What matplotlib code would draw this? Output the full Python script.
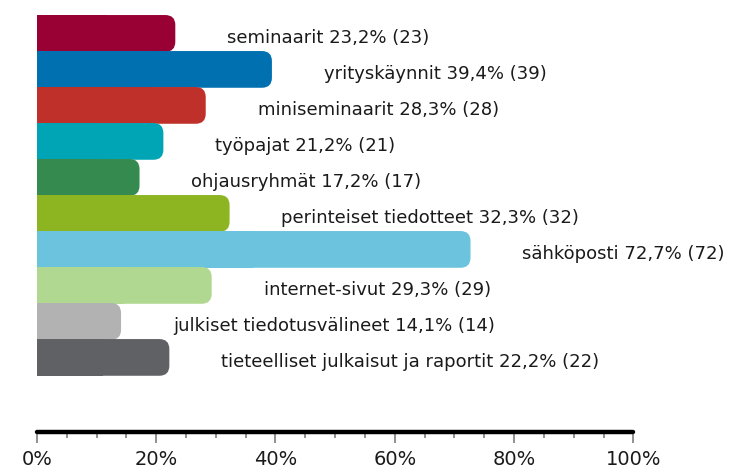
import matplotlib
matplotlib.use("Agg")
import matplotlib.pyplot as plt
from matplotlib.patches import FancyBboxPatch, Rectangle
from matplotlib.ticker import MultipleLocator, FuncFormatter

categories = ["seminaarit", "yrityskäynnit", "miniseminaarit", "työpajat", "ohjausryhmät",
              "perinteiset tiedotteet", "sähköposti", "internet-sivut",
              "julkiset tiedotusvälineet", "tieteelliset julkaisut ja raportit"]
percents = [23.2, 39.4, 28.3, 21.2, 17.2, 32.3, 72.7, 29.3, 14.1, 22.2]
counts = [23, 39, 28, 21, 17, 32, 72, 29, 14, 22]
colors = ["#990033", "#0070B0", "#C0302A", "#00A5B5", "#358A4F",
          "#8DB522", "#6CC3DE", "#B0D890", "#B2B2B2", "#606165"]

fig = plt.figure(figsize=(7.39, 4.70), dpi=100)
ax = fig.add_axes([0.050, 0.081, 0.807, 0.887])
ax.set_xlim(0, 100)
ax.set_ylim(11.08, -0.5)

# px -> data units, used to keep the corner rounding circular
x_per_px = 100 / (0.807 * 739)
y_per_px = 11.58 / (0.887 * 470)
aspect = y_per_px / x_per_px
r = 10 * x_per_px

for i, (p, n, c) in enumerate(zip(percents, counts, colors)):
    ax.add_patch(FancyBboxPatch((0, i - 0.5), p, 1.02,
                                boxstyle=f"round,pad=0,rounding_size={r}",
                                mutation_aspect=aspect, fc=c, ec="none"))
    # square off the left end
    ax.add_patch(Rectangle((0, i - 0.5), p / 2, 1.02, fc=c, ec="none", lw=0))
    label = f"{categories[i]} {p:.1f}% ({n})".replace(".", ",")
    ax.text(p + 8.7, i + 0.13, label, va="center", ha="left",
            fontsize=13, color="#1a1a1a")

for s in ["top", "right", "left"]:
    ax.spines[s].set_visible(False)
ax.spines["bottom"].set_linewidth(3.2)
ax.spines["bottom"].set_color("black")
ax.spines["bottom"].set_capstyle("round")
ax.set_yticks([])
ax.xaxis.set_major_locator(MultipleLocator(20))
ax.xaxis.set_minor_locator(MultipleLocator(5))
ax.xaxis.set_major_formatter(FuncFormatter(lambda v, _: f"{v:.0f}%"))
ax.tick_params(axis="x", which="major", length=8, width=1.3, color="#888888",
               labelsize=14, labelcolor="#1a1a1a", pad=5)
ax.tick_params(axis="x", which="minor", length=4.5, width=1.3, color="#888888")

fig.savefig("out.png", dpi=100)
